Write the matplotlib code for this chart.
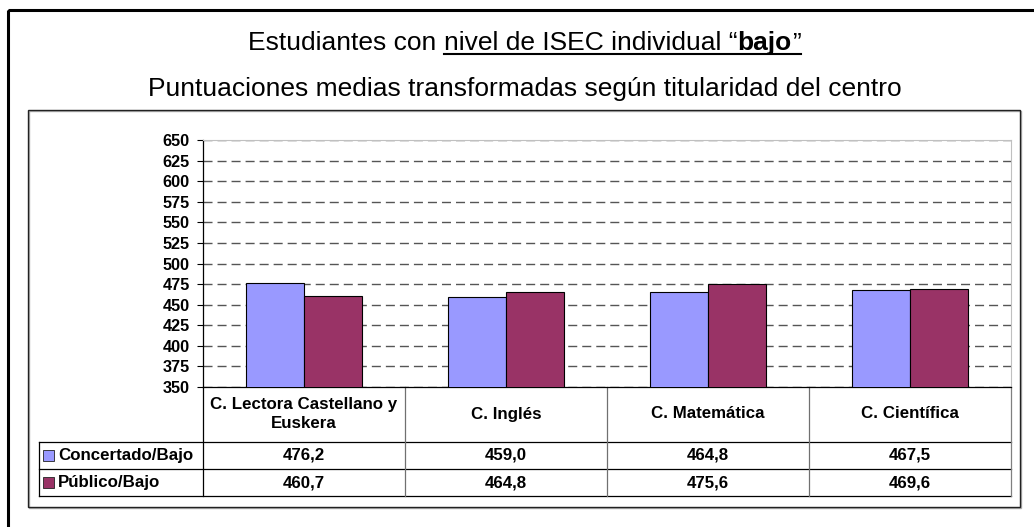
import matplotlib
matplotlib.use("Agg")
import matplotlib.pyplot as plt
import matplotlib.transforms as mtransforms
from matplotlib.patches import Rectangle
from matplotlib.lines import Line2D
import numpy as np

# ---------------- data ----------------
categories = ["C. Lectora Castellano y\nEuskera", "C. Inglés", "C. Matemática", "C. Científica"]
series_names = ["Concertado/Bajo", "Público/Bajo"]
concertado = [476.2, 459.0, 464.8, 467.5]
publico = [460.7, 464.8, 475.6, 469.6]
series_colors = ["#9999FF", "#993366"]
yticks = list(range(350, 651, 25))
title_pieces = [("Estudiantes con ", "normal", False),
                ("nivel de ISEC individual \u201c", "normal", True),
                ("bajo", "bold", True),
                ("\u201d", "normal", True)]
subtitle = "Puntuaciones medias transformadas según titularidad del centro"

plt.rcParams["font.family"] = ["Liberation Sans", "DejaVu Sans"]

W, H = 1034, 527
fig = plt.figure(figsize=(W / 100, H / 100), dpi=100)
fig.patch.set_facecolor("white")
px = mtransforms.Affine2D().scale(1 / W, -1 / H).translate(0, 1) + fig.transFigure

# outer frame and inner chart box
fig.add_artist(Rectangle((8, 10), 1200, 800, transform=px, fill=False,
                         edgecolor="black", lw=2.2))
fig.add_artist(Rectangle((29, 111), 992, 397, transform=px, fill=False,
                         edgecolor="#b0b0b0", lw=1.0))
fig.add_artist(Rectangle((28, 110), 992, 397, transform=px, fill=False,
                         edgecolor="#222222", lw=1.0))

# ---------------- titles ----------------
renderer = fig.canvas.get_renderer()
tsize = 19.0

def text_width(s, weight, size):
    t1 = fig.text(0, 0, s + "|", fontsize=size, fontweight=weight)
    t2 = fig.text(0, 0, "|", fontsize=size, fontweight=weight)
    w = t1.get_window_extent(renderer).width - t2.get_window_extent(renderer).width
    t1.remove(); t2.remove()
    return w

widths = [text_width(s, wt, tsize) for s, wt, u in title_pieces]
total = sum(widths)
xc = 524.5
x0 = xc - total / 2
base1 = 50
ul_start = None
ul_end = None
xx = x0
for (s, wt, u), w in zip(title_pieces, widths):
    fig.text(xx, base1, s, transform=px, fontsize=tsize, fontweight=wt,
             ha="left", va="baseline")
    if u:
        if ul_start is None:
            ul_start = xx
        ul_end = xx + w
    xx += w
fig.add_artist(Line2D([ul_start, ul_end], [base1 + 3.5, base1 + 3.5],
                      transform=px, color="black", lw=1.5))

fig.text(xc, 96, subtitle, transform=px, fontsize=tsize, ha="center", va="baseline")

# ---------------- axes / bars ----------------
ax = fig.add_axes([203 / W, 1 - 387 / H, 808 / W, 247 / H])
x = np.arange(len(categories))
bw = 0.288
ax.bar(x - bw / 2, concertado, bw, color=series_colors[0], edgecolor="black", lw=0.8, zorder=3)
ax.bar(x + bw / 2, publico, bw, color=series_colors[1], edgecolor="black", lw=0.8, zorder=3)
ax.set_xlim(-0.5, len(categories) - 0.5)
ax.set_ylim(yticks[0], yticks[-1])
ax.set_yticks(yticks)
ax.set_xticks([])
ax.yaxis.grid(True, color="#555555", lw=1.0, dashes=(6.5, 3.6), zorder=0)
ax.set_axisbelow(True)
for lab in ax.get_yticklabels():
    lab.set_fontweight("bold")
ax.tick_params(axis="y", labelsize=11.7, length=4, width=0.8, pad=5.5, colors="black")
ax.spines["left"].set_color("black")
ax.spines["left"].set_linewidth(0.9)
ax.spines["bottom"].set_color("black")
ax.spines["bottom"].set_linewidth(0.9)
ax.spines["top"].set_color("#c0c0c0")
ax.spines["right"].set_color("#c0c0c0")

# ---------------- data table ----------------
tr = mtransforms.blended_transform_factory(ax.transData, ax.transAxes)
ax_h = 247.0
cat_w = 202.0
y_top = 0.0
y_head = -55 / ax_h
y_r1 = -82 / ax_h
y_r2 = -109 / ax_h
left = -0.5
right = len(categories) - 0.5
leg_left = left - 164 / cat_w
fs = 12.2

def hline(x1, x2, y, c="black", lw=0.9):
    ax.add_line(Line2D([x1, x2], [y, y], transform=tr, color=c, lw=lw, clip_on=False))

def vline(xv, y1, y2, c="black", lw=0.9):
    ax.add_line(Line2D([xv, xv], [y1, y2], transform=tr, color=c, lw=lw, clip_on=False))

hline(leg_left, right, y_head)
hline(leg_left, right, y_r1)
hline(leg_left, right, y_r2)
vline(leg_left, y_r2, y_head)
vline(left, y_r2, y_top)
for i in range(1, len(categories)):
    vline(i - 0.5, y_r2, y_top, c="#707070")
vline(right, y_r2, y_top, c="#808080")

for i, cat in enumerate(categories):
    ax.text(i, (y_top + y_head) / 2 + 0.5 / ax_h, cat, transform=tr, ha="center", va="center",
            fontsize=fs, fontweight="bold", linespacing=1.38)

rows = [concertado, publico]
row_y = [(y_head + y_r1) / 2, (y_r1 + y_r2) / 2]
for name, col, vals, yc in zip(series_names, series_colors, rows, row_y):
    ax.add_patch(Rectangle((leg_left + 4 / cat_w, yc - 5.5 / ax_h), 11 / cat_w, 11 / ax_h,
                           transform=tr, facecolor=col, edgecolor="#222222", lw=0.6,
                           clip_on=False))
    ax.text(leg_left + 19 / cat_w, yc, name, transform=tr, ha="left", va="center",
            fontsize=fs, fontweight="bold")
    for i, v in enumerate(vals):
        ax.text(i, yc, f"{v:.1f}".replace(".", ","), transform=tr, ha="center",
                va="center", fontsize=fs, fontweight="bold")

fig.savefig("out.png", dpi=100)
